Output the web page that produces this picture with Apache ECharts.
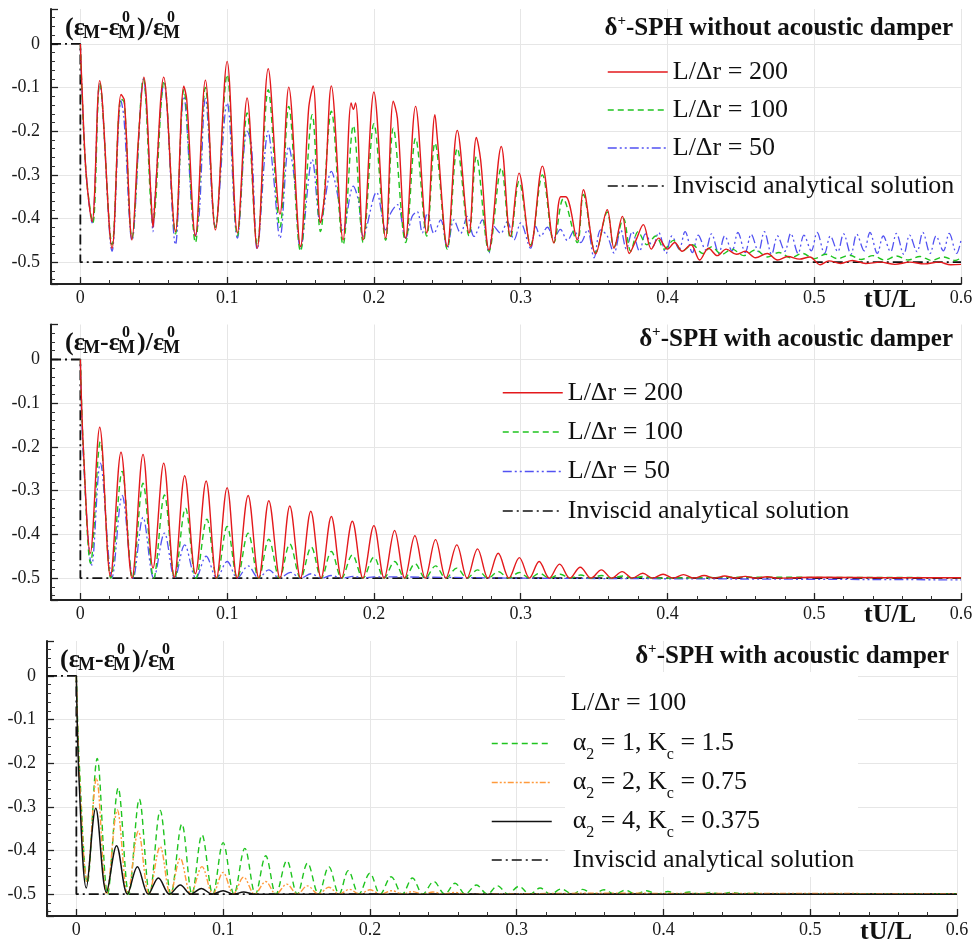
<!DOCTYPE html>
<html>
<head>
<meta charset="utf-8">
<script src="https://cdn.jsdelivr.net/npm/echarts@6/dist/echarts.min.js"></script>
<style>html,body{margin:0;padding:0;background:#fff}#c{width:979px;height:945px}</style>
</head>
<body>
<div id="c"></div>
<script>
// ---------- data (tU/L, (eM-eM0)/eM0) ----------
const ANALYTIC = [[-0.02,0],[0,0],[0,-0.5],[0.6,-0.5]];

const P1_RED = [[0,0],[0.001,-0.09],[0.004,-0.3],[0.008,-0.407],[0.0132,-0.084],[0.0216,-0.468],[0.0277,-0.116],[0.03,-0.13],[0.0352,-0.449],[0.0395,-0.22],[0.0432,-0.076],[0.0482,-0.355],[0.0495,-0.42],[0.0508,-0.36],[0.0568,-0.076],[0.0648,-0.43],[0.0705,-0.097],[0.0725,-0.128],[0.0784,-0.44],[0.0852,-0.083],[0.092,-0.426],[0.1,-0.04],[0.107,-0.433],[0.1136,-0.124],[0.1205,-0.468],[0.128,-0.057],[0.136,-0.39],[0.142,-0.099],[0.15,-0.464],[0.1555,-0.15],[0.1586,-0.096],[0.1636,-0.41],[0.1665,-0.342],[0.171,-0.096],[0.179,-0.449],[0.1845,-0.135],[0.186,-0.15],[0.1875,-0.135],[0.1927,-0.449],[0.2,-0.11],[0.208,-0.445],[0.2132,-0.131],[0.216,-0.17],[0.2216,-0.445],[0.2284,-0.143],[0.236,-0.433],[0.2416,-0.162],[0.2432,-0.216],[0.25,-0.464],[0.2568,-0.198],[0.2648,-0.433],[0.2698,-0.214],[0.2727,-0.265],[0.2784,-0.472],[0.2868,-0.235],[0.293,-0.441],[0.2989,-0.296],[0.3068,-0.464],[0.3148,-0.28],[0.3227,-0.456],[0.3273,-0.35],[0.3307,-0.35],[0.3386,-0.449],[0.3427,-0.334],[0.3511,-0.481],[0.359,-0.38],[0.3636,-0.468],[0.3693,-0.395],[0.374,-0.48],[0.3785,-0.45],[0.3836,-0.414],[0.389,-0.47],[0.394,-0.445],[0.4,-0.47],[0.405,-0.455],[0.41,-0.475],[0.416,-0.46],[0.422,-0.495],[0.428,-0.468],[0.434,-0.485],[0.44,-0.47],[0.447,-0.482],[0.453,-0.475],[0.46,-0.49],[0.468,-0.48],[0.475,-0.495],[0.482,-0.487],[0.49,-0.493],[0.497,-0.488],[0.504,-0.506],[0.51,-0.497],[0.518,-0.503],[0.526,-0.496],[0.535,-0.503],[0.545,-0.5],[0.555,-0.505],[0.565,-0.5],[0.575,-0.504],[0.585,-0.5],[0.593,-0.506],[0.6,-0.505]];

const P1_GREEN = [[0,0],[0.001,-0.1],[0.004,-0.3],[0.0085,-0.41],[0.0132,-0.09],[0.0216,-0.46],[0.0277,-0.125],[0.03,-0.135],[0.0352,-0.445],[0.043,-0.08],[0.0495,-0.41],[0.057,-0.085],[0.0648,-0.435],[0.0705,-0.105],[0.0784,-0.455],[0.0852,-0.1],[0.092,-0.42],[0.1,-0.07],[0.107,-0.44],[0.1136,-0.158],[0.1205,-0.46],[0.128,-0.105],[0.136,-0.42],[0.142,-0.143],[0.15,-0.475],[0.158,-0.162],[0.1636,-0.43],[0.171,-0.154],[0.179,-0.46],[0.186,-0.187],[0.1927,-0.455],[0.2,-0.183],[0.208,-0.45],[0.2132,-0.193],[0.2216,-0.455],[0.2284,-0.216],[0.236,-0.44],[0.2416,-0.227],[0.25,-0.47],[0.2568,-0.239],[0.2648,-0.44],[0.2698,-0.258],[0.2784,-0.475],[0.2868,-0.284],[0.293,-0.445],[0.2989,-0.315],[0.3068,-0.46],[0.3148,-0.3],[0.3227,-0.455],[0.329,-0.355],[0.3386,-0.455],[0.3427,-0.345],[0.3511,-0.478],[0.359,-0.385],[0.3636,-0.465],[0.37,-0.4],[0.375,-0.475],[0.38,-0.43],[0.386,-0.46],[0.392,-0.44],[0.398,-0.47],[0.404,-0.45],[0.41,-0.475],[0.417,-0.46],[0.424,-0.48],[0.43,-0.465],[0.437,-0.482],[0.444,-0.47],[0.452,-0.485],[0.46,-0.472],[0.468,-0.488],[0.476,-0.478],[0.484,-0.49],[0.492,-0.48],[0.5,-0.492],[0.508,-0.482],[0.516,-0.492],[0.524,-0.484],[0.532,-0.494],[0.54,-0.485],[0.548,-0.495],[0.556,-0.486],[0.564,-0.495],[0.572,-0.487],[0.58,-0.496],[0.588,-0.488],[0.596,-0.496],[0.6,-0.49]];

const P1_BLUE = [[0,0],[0.001,-0.1],[0.004,-0.3],[0.008,-0.41],[0.0132,-0.09],[0.0216,-0.475],[0.0277,-0.13],[0.0297,-0.17],[0.0352,-0.45],[0.043,-0.08],[0.0478,-0.33],[0.0495,-0.43],[0.0505,-0.37],[0.057,-0.09],[0.0648,-0.46],[0.0705,-0.12],[0.0784,-0.44],[0.081,-0.39],[0.0852,-0.125],[0.092,-0.42],[0.1,-0.135],[0.107,-0.445],[0.1136,-0.2],[0.1165,-0.23],[0.1205,-0.47],[0.128,-0.2],[0.1315,-0.3],[0.136,-0.445],[0.142,-0.235],[0.1455,-0.3],[0.15,-0.47],[0.158,-0.265],[0.1636,-0.41],[0.171,-0.292],[0.1755,-0.35],[0.179,-0.43],[0.186,-0.326],[0.1895,-0.36],[0.1927,-0.44],[0.2018,-0.34],[0.208,-0.426],[0.2114,-0.388],[0.216,-0.368],[0.2216,-0.445],[0.2261,-0.395],[0.2295,-0.384],[0.233,-0.433],[0.2364,-0.388],[0.2409,-0.434],[0.2455,-0.403],[0.25,-0.468],[0.2545,-0.403],[0.2591,-0.434],[0.2636,-0.395],[0.2682,-0.441],[0.2739,-0.403],[0.2784,-0.479],[0.2818,-0.418],[0.2864,-0.434],[0.2909,-0.407],[0.2955,-0.449],[0.3,-0.41],[0.3068,-0.468],[0.3102,-0.418],[0.3136,-0.441],[0.3182,-0.42],[0.3227,-0.445],[0.327,-0.425],[0.3318,-0.45],[0.3364,-0.428],[0.341,-0.455],[0.3455,-0.426],[0.35,-0.49],[0.3545,-0.426],[0.359,-0.44],[0.3636,-0.479],[0.3682,-0.426],[0.372,-0.47],[0.376,-0.43],[0.381,-0.475],[0.385,-0.435],[0.39,-0.465],[0.394,-0.432],[0.399,-0.48],[0.403,-0.44],[0.408,-0.47],[0.412,-0.43],[0.417,-0.478],[0.421,-0.438],[0.426,-0.472],[0.43,-0.435],[0.435,-0.48],[0.439,-0.44],[0.444,-0.474],[0.448,-0.432],[0.453,-0.478],[0.457,-0.436],[0.462,-0.476],[0.466,-0.43],[0.471,-0.482],[0.475,-0.44],[0.48,-0.475],[0.484,-0.434],[0.489,-0.48],[0.493,-0.438],[0.498,-0.474],[0.502,-0.432],[0.507,-0.48],[0.511,-0.44],[0.516,-0.476],[0.52,-0.435],[0.525,-0.482],[0.529,-0.436],[0.534,-0.474],[0.538,-0.432],[0.543,-0.48],[0.547,-0.44],[0.552,-0.476],[0.556,-0.434],[0.561,-0.482],[0.565,-0.438],[0.57,-0.476],[0.574,-0.432],[0.579,-0.48],[0.583,-0.44],[0.588,-0.474],[0.592,-0.434],[0.597,-0.48],[0.6,-0.45]];

const P2_RED = [[0,0],[0.002,-0.2],[0.0068,-0.443],[0.0132,-0.155],[0.0205,-0.496],[0.0277,-0.212],[0.0352,-0.5],[0.0427,-0.217],[0.0495,-0.477],[0.0568,-0.237],[0.064,-0.498],[0.0711,-0.266],[0.0784,-0.49],[0.0857,-0.278],[0.0927,-0.5],[0.1,-0.293],[0.1068,-0.5],[0.1143,-0.311],[0.1216,-0.5],[0.1284,-0.323],[0.136,-0.5],[0.1427,-0.335],[0.15,-0.5],[0.157,-0.347],[0.164,-0.5],[0.171,-0.359],[0.178,-0.5],[0.1853,-0.37],[0.1925,-0.5],[0.2,-0.38],[0.207,-0.5],[0.2141,-0.391],[0.221,-0.5],[0.2279,-0.403],[0.235,-0.5],[0.242,-0.412],[0.249,-0.5],[0.2565,-0.424],[0.2635,-0.5],[0.2706,-0.433],[0.2777,-0.5],[0.2847,-0.443],[0.292,-0.5],[0.2991,-0.453],[0.306,-0.5],[0.3126,-0.462],[0.3195,-0.5],[0.3265,-0.468],[0.3335,-0.5],[0.3406,-0.475],[0.348,-0.5],[0.355,-0.481],[0.362,-0.5],[0.3691,-0.485],[0.376,-0.5],[0.3832,-0.489],[0.39,-0.5],[0.397,-0.491],[0.404,-0.5],[0.4109,-0.492],[0.418,-0.5],[0.425,-0.494],[0.432,-0.5],[0.439,-0.495],[0.446,-0.5],[0.453,-0.496],[0.46,-0.5],[0.468,-0.497],[0.475,-0.5],[0.5,-0.498],[0.55,-0.499],[0.6,-0.499]];

const P2_GREEN = [[0,0],[0.002,-0.2],[0.007,-0.466],[0.0136,-0.188],[0.0208,-0.5],[0.0285,-0.256],[0.0355,-0.5],[0.0427,-0.283],[0.05,-0.5],[0.0573,-0.31],[0.0643,-0.5],[0.0716,-0.34],[0.0788,-0.5],[0.0862,-0.365],[0.093,-0.5],[0.1,-0.382],[0.107,-0.5],[0.1143,-0.397],[0.1215,-0.5],[0.1284,-0.411],[0.1357,-0.5],[0.1427,-0.422],[0.15,-0.5],[0.1573,-0.429],[0.1642,-0.5],[0.171,-0.439],[0.178,-0.5],[0.1853,-0.447],[0.1925,-0.5],[0.2,-0.452],[0.207,-0.5],[0.2141,-0.462],[0.221,-0.5],[0.228,-0.467],[0.235,-0.5],[0.242,-0.472],[0.249,-0.5],[0.2565,-0.477],[0.2635,-0.5],[0.2706,-0.481],[0.2777,-0.5],[0.2847,-0.485],[0.292,-0.5],[0.2991,-0.487],[0.306,-0.5],[0.313,-0.489],[0.3195,-0.5],[0.327,-0.491],[0.3335,-0.5],[0.341,-0.493],[0.348,-0.5],[0.355,-0.494],[0.362,-0.5],[0.37,-0.495],[0.376,-0.5],[0.384,-0.496],[0.39,-0.5],[0.45,-0.498],[0.6,-0.499]];

const P2_BLUE = [[0,0],[0.002,-0.22],[0.0078,-0.47],[0.0136,-0.237],[0.0216,-0.498],[0.0285,-0.311],[0.036,-0.5],[0.0427,-0.361],[0.05,-0.5],[0.0573,-0.397],[0.0643,-0.5],[0.0711,-0.424],[0.0788,-0.5],[0.0857,-0.45],[0.093,-0.5],[0.1,-0.462],[0.107,-0.5],[0.1143,-0.472],[0.1215,-0.5],[0.1284,-0.481],[0.1357,-0.5],[0.1432,-0.487],[0.15,-0.5],[0.1573,-0.49],[0.1642,-0.5],[0.171,-0.494],[0.178,-0.5],[0.186,-0.496],[0.193,-0.5],[0.2,-0.497],[0.3,-0.5],[0.45,-0.502],[0.6,-0.504]];

const P3_GREEN = [[0,0],[0.002,-0.2],[0.0075,-0.475],[0.0142,-0.189],[0.0213,-0.5],[0.0285,-0.257],[0.0357,-0.5],[0.0429,-0.282],[0.05,-0.5],[0.0571,-0.308],[0.0645,-0.5],[0.0719,-0.339],[0.0788,-0.5],[0.0856,-0.364],[0.093,-0.5],[0.1,-0.382],[0.1074,-0.5],[0.1148,-0.395],[0.122,-0.5],[0.129,-0.412],[0.136,-0.5],[0.1434,-0.423],[0.1505,-0.5],[0.1575,-0.429],[0.165,-0.5],[0.172,-0.437],[0.179,-0.5],[0.1853,-0.446],[0.1925,-0.5],[0.2,-0.452],[0.207,-0.5],[0.2145,-0.46],[0.222,-0.5],[0.229,-0.463],[0.236,-0.5],[0.2435,-0.471],[0.251,-0.5],[0.258,-0.475],[0.265,-0.5],[0.2725,-0.479],[0.28,-0.5],[0.287,-0.481],[0.294,-0.5],[0.3015,-0.482],[0.309,-0.5],[0.316,-0.486],[0.323,-0.5],[0.3305,-0.488],[0.338,-0.5],[0.345,-0.489],[0.352,-0.5],[0.3595,-0.49],[0.367,-0.5],[0.374,-0.491],[0.381,-0.5],[0.3885,-0.492],[0.396,-0.5],[0.403,-0.494],[0.41,-0.5],[0.4175,-0.495],[0.425,-0.5],[0.432,-0.496],[0.439,-0.5],[0.4465,-0.496],[0.454,-0.5],[0.461,-0.497],[0.468,-0.5],[0.6,-0.499]];

const P3_ORANGE = [[0,0],[0.002,-0.22],[0.0073,-0.471],[0.0137,-0.234],[0.0207,-0.5],[0.0279,-0.307],[0.035,-0.5],[0.0422,-0.356],[0.0495,-0.5],[0.0571,-0.391],[0.064,-0.5],[0.0708,-0.418],[0.078,-0.5],[0.0856,-0.437],[0.093,-0.5],[0.1,-0.45],[0.107,-0.5],[0.114,-0.461],[0.1215,-0.5],[0.129,-0.471],[0.136,-0.5],[0.1434,-0.477],[0.1505,-0.5],[0.1575,-0.481],[0.165,-0.5],[0.172,-0.484],[0.179,-0.5],[0.186,-0.489],[0.193,-0.5],[0.2,-0.49],[0.2075,-0.5],[0.215,-0.492],[0.222,-0.5],[0.229,-0.494],[0.236,-0.5],[0.243,-0.495],[0.25,-0.5],[0.258,-0.496],[0.265,-0.5],[0.35,-0.498],[0.6,-0.499]];

const P3_BLACK = [[0,0],[0.002,-0.25],[0.0068,-0.486],[0.0132,-0.303],[0.0205,-0.496],[0.0274,-0.389],[0.0348,-0.5],[0.0416,-0.437],[0.049,-0.5],[0.0559,-0.463],[0.0635,-0.5],[0.0708,-0.479],[0.078,-0.5],[0.0852,-0.487],[0.0925,-0.5],[0.1,-0.492],[0.107,-0.5],[0.114,-0.495],[0.121,-0.5],[0.6,-0.5]];

const NAMES_RES = ['L/Δr = 200','L/Δr = 100','L/Δr = 50'];
const NAME_ANA = 'Inviscid analytical solution';
const NAMES_P3 = ['α2 = 1, Kc = 1.5','α2 = 2, Kc = 0.75','α2 = 4, Kc = 0.375'];
const RICH_P3 = {
  'α2 = 1, Kc = 1.5':  '{t|α}{s|2}{t| = 1, K}{s|c}{t| = 1.5}',
  'α2 = 2, Kc = 0.75': '{t|α}{s|2}{t| = 2, K}{s|c}{t| = 0.75}',
  'α2 = 4, Kc = 0.375':'{t|α}{s|2}{t| = 4, K}{s|c}{t| = 0.375}'
};
const TITLES = ['without acoustic damper','with acoustic damper','with acoustic damper'];

// ---------- styling ----------
const SERIF = 'Liberation Serif';
const C_RED = '#e3191c', C_GREEN = '#1fc41f', C_BLUE = '#5252f2', C_ORANGE = '#ff9a3c', C_BLACK = '#111';
const DASH_G = [6,4], DASH_B = [9,3,2,3,2,3], DASH_O = [6,2,2,2,2,2], DASH_A = [10,4,2,4];

const grids = [
  {left:51, top:9, width:910, height:275},
  {left:51, top:324.5, width:910, height:275.5},
  {left:47, top:641, width:910, height:275}
];

function xAx(i){
  return {type:'value', gridIndex:i, min:-0.02, max:0.6,
    axisLine:{show:true, onZero:false, lineStyle:{color:'#222', width:2}},
    axisTick:{show:true, inside:true, length:7, lineStyle:{color:'#222', width:1.3}},
    minorTick:{show:true, splitNumber:5, length:4, lineStyle:{color:'#333', width:1}},
    axisLabel:{show:true, showMinLabel:false, fontFamily:SERIF, fontSize:18, color:'#1a1a1a', margin:5},
    splitLine:{show:true, showMinLine:false, lineStyle:{color:'#e6e6e6', width:1}}
  };
}
function yAx(i){
  return {type:'value', gridIndex:i, min:-0.55, max:0.08,
    axisLine:{show:true, onZero:false, lineStyle:{color:'#222', width:2}},
    axisTick:{show:true, inside:true, length:7, lineStyle:{color:'#222', width:1.3}},
    minorTick:{show:true, splitNumber:5, length:4, lineStyle:{color:'#333', width:1}},
    axisLabel:{show:true, showMinLabel:false, showMaxLabel:false, fontFamily:SERIF, fontSize:18, color:'#1a1a1a', margin:11},
    splitLine:{show:true, showMinLine:false, showMaxLine:false, lineStyle:{color:'#e6e6e6', width:1}}
  };
}
function ser(name, data, i, color, dash, width, z, smooth){
  return {type:'line', name:name, data:data, xAxisIndex:i, yAxisIndex:i, symbol:'none', showSymbol:false,
    smooth: smooth === undefined ? 0.35 : smooth, z:z, animation:false,
    lineStyle:{color:color, width:width, type:dash}, itemStyle:{color:color}};
}

const series = [
  ser(NAME_ANA, ANALYTIC, 0, C_BLACK, DASH_A, 1.8, 2, false),
  ser(NAMES_RES[2], P1_BLUE, 0, C_BLUE, DASH_B, 1.3, 3),
  ser(NAMES_RES[1], P1_GREEN, 0, C_GREEN, DASH_G, 1.4, 4),
  ser(NAMES_RES[0], P1_RED, 0, C_RED, 'solid', 1.4, 5),
  ser(NAME_ANA, ANALYTIC, 1, C_BLACK, DASH_A, 1.8, 2, false),
  ser(NAMES_RES[2], P2_BLUE, 1, C_BLUE, DASH_B, 1.3, 3),
  ser(NAMES_RES[1], P2_GREEN, 1, C_GREEN, DASH_G, 1.4, 4),
  ser(NAMES_RES[0], P2_RED, 1, C_RED, 'solid', 1.4, 5),
  ser(NAME_ANA, ANALYTIC, 2, C_BLACK, DASH_A, 1.8, 2, false),
  ser(NAMES_P3[0], P3_GREEN, 2, C_GREEN, DASH_G, 1.4, 3),
  ser(NAMES_P3[1], P3_ORANGE, 2, C_ORANGE, DASH_O, 1.4, 4),
  ser(NAMES_P3[2], P3_BLACK, 2, C_BLACK, 'solid', 1.5, 5)
];

function legend(left, top, data, lh, extra){
  const l = {orient:'vertical', left:left, top:top, itemWidth:60, itemHeight:10, itemGap:0,
    selectedMode:false, data:data, padding:0,
    itemStyle:{opacity:0}, lineStyle:{width:1.5},
    textStyle:{fontFamily:SERIF, fontSize:26, lineHeight:lh, color:'#111'}};
  return Object.assign(l, extra || {});
}
const sStyle = {fontFamily:SERIF, fontSize:16, lineHeight:15, padding:[23,0,0,0], color:'#111'};
const tStyle = {fontFamily:SERIF, fontSize:26, lineHeight:38, color:'#111'};

const legends = [
  legend(607, 53, NAMES_RES.concat([NAME_ANA]), 38),
  legend(502, 373, NAMES_RES.concat([NAME_ANA]), 39.4),
  legend(491, 724, NAMES_P3.concat([NAME_ANA]), 38, {
    formatter: function(n){ return RICH_P3[n] ? RICH_P3[n] : '{t|' + n + '}'; },
    textStyle:{fontFamily:SERIF, fontSize:26, lineHeight:38, color:'#111', padding:[0,0,0,16], rich:{t:tStyle, s:sStyle}}
  })
];

// ---------- text decorations ----------
function yName(x, yc){
  const big = 'bold 26px "Liberation Serif"', small = 'bold 18px "Liberation Serif"', sup = 'bold 16px "Liberation Serif"';
  const T = (dx, dy, txt, f) => ({type:'text', x:x+dx, y:yc+dy, z:10, style:{text:txt, font:f, fill:'#111', align:'left', verticalAlign:'middle'}});
  return [T(0,0,'(ε',big), T(18,5,'M',small), T(35,0,'-ε',big), T(53,5,'M',small), T(57,-10,'0',sup),
          T(72,0,')/ε',big), T(98,5,'M',small), T(102,-10,'0',sup)];
}
function title(xr, yc, txt){
  return {type:'text', x:xr, y:yc, z:10, style:{
    text:'{a|δ}{p|+}{a|-SPH ' + txt + '}', align:'right', verticalAlign:'middle',
    rich:{a:{fontFamily:SERIF, fontWeight:'bold', fontSize:25, lineHeight:30, fill:'#111'},
          p:{fontFamily:SERIF, fontWeight:'bold', fontSize:15, lineHeight:15, padding:[0,0,15,0], fill:'#111'}}}};
}
function xName(xc, yc){
  return {type:'text', x:xc, y:yc, z:10, style:{text:'tU/L', font:'bold 26px "Liberation Serif"', fill:'#111', align:'center', verticalAlign:'middle'}};
}

const graphics = [
  {type:'rect', shape:{x:565, y:672, width:293, height:205}, style:{fill:'#fff'}, z:1},
  {type:'text', x:571, y:703, z:10, style:{text:'L/Δr = 100', font:'26px "Liberation Serif"', fill:'#111', align:'left', verticalAlign:'middle'}},
  title(953, 29, TITLES[0]), title(953, 340, TITLES[1]), title(949, 657, TITLES[2]),
  xName(890, 300), xName(890, 615), xName(886, 932)
].concat(yName(65, 28), yName(65, 343), yName(60, 660));

const chart = echarts.init(document.getElementById('c'), null, {renderer:'canvas'});
chart.setOption({
  backgroundColor:'#fff',
  animation:false,
  grid: grids,
  xAxis: [xAx(0), xAx(1), xAx(2)],
  yAxis: [yAx(0), yAx(1), yAx(2)],
  legend: legends,
  series: series,
  graphic: {elements: graphics}
});
</script>
</body>
</html>
